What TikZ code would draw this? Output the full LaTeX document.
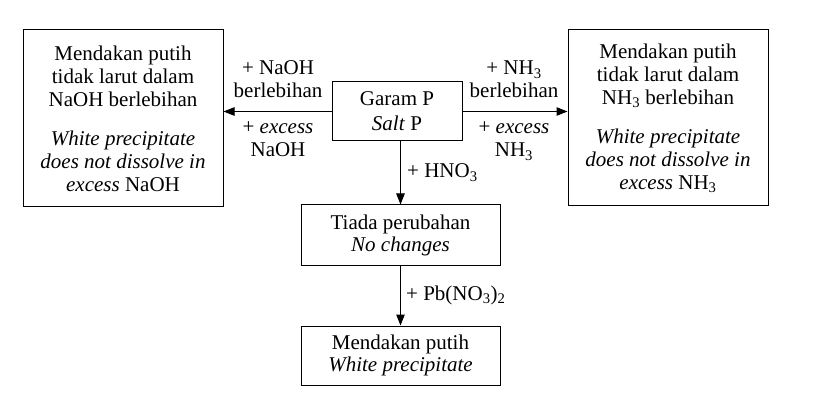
\documentclass[tikz,border=0pt]{standalone}
\usepackage{fontspec}
\setmainfont{Liberation Serif}
\usetikzlibrary{arrows.meta}
\begin{document}
\begin{tikzpicture}[x=1pt,y=-1pt,
 box/.style={draw, line width=1pt, align=center, inner sep=0pt, font=\fontsize{21}{23}\selectfont},
 lab/.style={align=center, inner sep=0pt, anchor=base, font=\fontsize{21}{23}\selectfont},
 arr/.style={line width=1pt, -{Triangle[length=11pt,width=8.5pt]}}]
\useasboundingbox (0,0) rectangle (837,395);
\node[box, minimum width=200pt, minimum height=177pt] (left) at (123,118.5)
 {Mendakan putih\\tidak larut dalam\\NaOH berlebihan\\[16pt]\textit{White precipitate}\\\textit{does not dissolve in}\\\textit{excess} NaOH};
\node[box, minimum width=200pt, minimum height=176pt] (right) at (668,118)
 {Mendakan putih\\tidak larut dalam\\NH\textsubscript{3} berlebihan\\[16pt]\textit{White precipitate}\\\textit{does not dissolve in}\\\textit{excess} NH\textsubscript{3}};
\node[box, minimum width=130pt, minimum height=59pt, font=\fontsize{21}{25}\selectfont] (garam) at (397,111.5)
 {Garam P\\\textit{Salt} P};
\node[box, minimum width=199pt, minimum height=60pt, font=\fontsize{21}{22}\selectfont] (tiada) at (400.5,235)
 {Tiada perubahan\\\textit{No changes}};
\node[box, minimum width=199pt, minimum height=59pt, font=\fontsize{21}{22}\selectfont] (bottom) at (400.5,355.5)
 {Mendakan putih\\\textit{White precipitate}};
\draw[arr] (garam.west) -- (garam.west -| left.east);
\draw[arr] (garam.east) -- (garam.east -| right.west);
\draw[arr] (garam.south -| tiada.north) -- (tiada.north);
\draw[arr] (tiada.south) -- (bottom.north);
\node[lab] (l1) at (278,98) {+ NaOH\\berlebihan};
\node[lab] (l2) at (278,157) {+ \textit{excess}\\NaOH};
\node[lab] (r1) at (514,98) {+ NH\textsubscript{3}\\berlebihan};
\node[lab] (r2) at (514,157) {+ \textit{excess}\\NH\textsubscript{3}};
\node[lab, anchor=base west] (h) at (407,178) {+ HNO\textsubscript{3}};
\node[lab, anchor=base west] (p) at (406,300) {+ Pb(NO\textsubscript{3})\textsubscript{2}};
\end{tikzpicture}
\end{document}
